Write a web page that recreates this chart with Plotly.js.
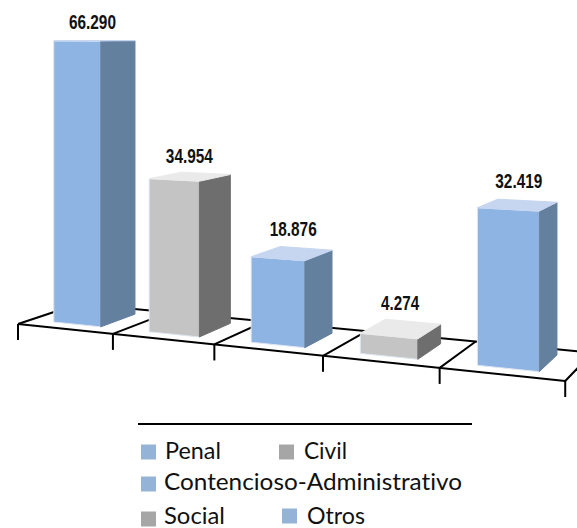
<!DOCTYPE html>
<html>
<head>
<meta charset="utf-8">
<script src="https://cdn.plot.ly/plotly-3.0.1.min.js"></script>
<style>html,body{margin:0;padding:0;background:#fff}#chart{width:577px;height:528px}#chart text{font-variant-ligatures:none !important;font-feature-settings:"liga" 0,"clig" 0,"dlig" 0,"calt" 0 !important}</style>
</head>
<body>
<div id="chart"></div>
<script>
// Data
const categories = ["Penal", "Civil", "Contencioso-Administrativo", "Social", "Otros"];
const values = [66290, 34954, 18876, 4274, 32419];
const valueLabels = ["66.290", "34.954", "18.876", "4.274", "32.419"];

// Styles per category
const frontColors = ["#8EB4E3", "#C4C4C4", "#8EB4E3", "#C4C4C4", "#8EB4E3"];
const sideColors  = ["#64809F", "#6E6E6E", "#64809F", "#6E6E6E", "#64809F"];
const topColors   = ["#C6D6F0", "#EAEAEA", "#C6D6F0", "#EAEAEA", "#C6D6F0"];
const legendColors = ["#95B3D7", "#A6A6A6", "#95B3D7", "#A6A6A6", "#95B3D7"];

// Perspective camera: category position u, depth d, value v -> page coordinates
function project(u, d, v) {
  const w = 1 - 0.0321 * u + 0.0737 * d;
  return [(18 + 91.3 * u + 66.5 * d) / w,
          (324 - 0.83 * u + 2.14 * d - 0.00427 * v) / w];
}
const BAR = {u0: 0.25, u1: 0.75, d0: 0.2, d1: 0.8};
const labelLift = [17, 19, 22, 24, 22];
const labelShift = [-2.5, -1, 1, -1, 1];
const labelWidths = [47, 47, 47, 38, 47];
const legendSquares = [[148.5, 452], [286.5, 452], [148.5, 484], [148.5, 519], [289.5, 516]];
const legendTextAt = [[165, 453], [304, 453], [164, 484], [164, 518], [307, 518]];
const legendWidths = [56, 43, 298, 61, 58];

const traces = [];

function poly(points, fill, name, edge) {
  const closed = points.concat([points[0]]);
  traces.push({
    type: "scatter", mode: "lines", name: name, hoverinfo: "name",
    x: closed.map(p => p[0]), y: closed.map(p => p[1]),
    fill: "toself", fillcolor: fill,
    line: {color: edge, width: 1}
  });
}

// Floor grid
const gx = [], gy = [];
function seg(a, b) { gx.push(a[0], b[0], null); gy.push(a[1], b[1], null); }
seg(project(0, 0, 0), project(5, 0, 0));
seg(project(0, 1, 0), project(5, 1, 0));
for (let u = 0; u <= 5; u++) {
  const f = project(u, 0, 0);
  seg(f, project(u, 1, 0));
  seg(f, [f[0], f[1] + 16]);
}
traces.push({type: "scatter", mode: "lines", x: gx, y: gy, hoverinfo: "skip",
  line: {color: "#000000", width: 2}, connectgaps: false});

// Bars
values.forEach((v, i) => {
  const a = i + BAR.u0, b = i + BAR.u1, n = BAR.d0, m = BAR.d1;
  poly([project(a, n, 0), project(b, n, 0), project(b, n, v), project(a, n, v)],
       frontColors[i], categories[i], "#DDE6F2");
  poly([project(b, n, 0), project(b, m, 0), project(b, m, v), project(b, n, v)],
       sideColors[i], categories[i], sideColors[i]);
  poly([project(a, n, v), project(b, n, v), project(b, m, v), project(a, m, v)],
       topColors[i], categories[i], topColors[i]);
});

// Value labels
const labelPts = values.map((v, i) => {
  const p = project(i + 0.5, 0.5, v);
  return [p[0] + labelShift[i], p[1] - labelLift[i]];
});
traces.push({type: "scatter", mode: "text", hoverinfo: "skip",
  x: labelPts.map(p => p[0]), y: labelPts.map(p => p[1]), text: valueLabels,
  textposition: "middle center",
  textfont: {family: "'Liberation Sans',sans-serif", size: 20, color: "#111111", weight: 700}});

// Legend drawn as marks and text
traces.push({type: "scatter", mode: "markers", hoverinfo: "skip",
  x: legendSquares.map(p => p[0]), y: legendSquares.map(p => p[1]),
  marker: {symbol: "square", size: 15, color: legendColors, line: {width: 0}}, cliponaxis: false});
traces.push({type: "scatter", mode: "text", hoverinfo: "skip",
  x: legendTextAt.map(p => p[0]), y: legendTextAt.map(p => p[1]), text: categories,
  textposition: "middle right",
  textfont: {family: "Lato, sans-serif", size: 23, color: "#111111"}, cliponaxis: false});

const layout = {
  width: 577, height: 528, margin: {l: 0, r: 0, t: 0, b: 0},
  paper_bgcolor: "#ffffff", plot_bgcolor: "#ffffff", showlegend: false,
  xaxis: {range: [0, 577], visible: false, fixedrange: true},
  yaxis: {range: [528, 0], visible: false, fixedrange: true},
  shapes: [{type: "line", xref: "x", yref: "y", x0: 138, x1: 472, y0: 424, y1: 424,
            line: {color: "#000000", width: 2}}]
};
Plotly.newPlot("chart", traces, layout, {displayModeBar: false, staticPlot: true}).then(() => {
  // Fit the text to the widths seen in the reference (its font is narrower than those installed)
  const widthByText = {};
  valueLabels.forEach((t, i) => { widthByText[t] = labelWidths[i]; });
  categories.forEach((t, i) => { widthByText[t] = legendWidths[i]; });
  document.querySelectorAll("#chart .textpoint text").forEach(el => {
    const w = widthByText[el.textContent];
    if (w) {
      el.setAttribute("textLength", w);
      el.setAttribute("lengthAdjust", "spacingAndGlyphs");
    }
  });
});
</script>
</body>
</html>
